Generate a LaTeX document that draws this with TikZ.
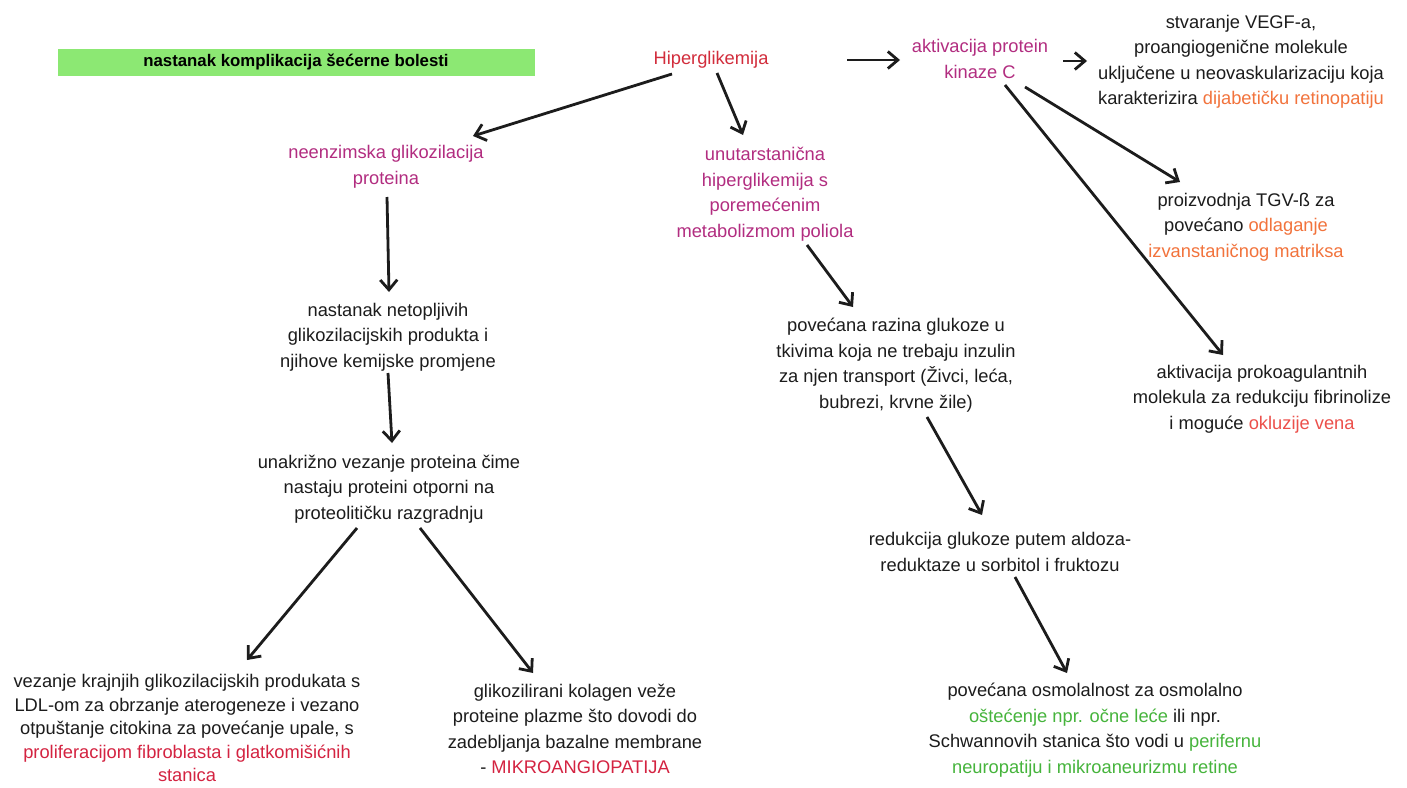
\documentclass[tikz,border=0pt]{standalone}
\usepackage{fontspec}
\setmainfont{Liberation Sans}
\usetikzlibrary{arrows.meta}
\definecolor{ink}{RGB}{28,28,28}
\definecolor{hred}{RGB}{210,45,60}
\definecolor{mag}{RGB}{178,45,128}
\definecolor{orng}{RGB}{242,115,60}
\definecolor{okl}{RGB}{236,80,75}
\definecolor{crim}{RGB}{212,35,65}
\definecolor{grn}{RGB}{70,180,60}
\definecolor{barg}{RGB}{140,232,115}
\begin{document}
\begin{tikzpicture}[x=1pt,y=-1pt,
  txt/.style={inner sep=0pt, align=center, text=ink, font=\fontsize{18.3}{25.5}\selectfont},
  magtxt/.style={txt, text=mag},
  arr/.style={draw=ink, line width=2.8pt, -{Straight Barb[length=10pt,width=17pt]}}]
\useasboundingbox[fill=white] (0,0) rectangle (1407,787);

\node[txt, fill=barg, minimum width=477pt, minimum height=27pt, text=black, font=\fontsize{16.8}{20}\selectfont\bfseries] (title) at (296,62) {nastanak komplikacija šećerne bolesti};
\node[txt, text=hred] (hip) at (711,60) {Hiperglikemija};
\node[magtxt] (akt) at (980,59) {aktivacija protein\\kinaze C};
\node[txt] (vegf) at (1241,62) {stvaranje VEGF-a,\\proangiogenične molekule\\uključene u neovaskularizaciju koja\\karakterizira \textcolor{orng}{dijabetičku retinopatiju}};
\node[txt] (tgv) at (1246,227) {proizvodnja TGV-ß za\\povećano \textcolor{orng}{odlaganje}\\\textcolor{orng}{izvanstaničnog matriksa}};
\node[txt] (prok) at (1262,399) {aktivacija prokoagulantnih\\molekula za redukciju fibrinolize\\i moguće \textcolor{okl}{okluzije vena}};
\node[magtxt] (neenz) at (386,167) {neenzimska glikozilacija\\proteina};
\node[magtxt] (unut) at (765,194) {unutarstanična\\hiperglikemija s\\poremećenim\\metabolizmom poliola};
\node[txt] (netop) at (388,337) {nastanak netopljivih\\glikozilacijskih produkta i\\njihove kemijske promjene};
\node[txt] (unakr) at (389,489) {unakrižno vezanje proteina čime\\nastaju proteini otporni na\\proteolitičku razgradnju};
\node[txt, font=\fontsize{18.3}{23.5}\selectfont] (vez) at (187,728) {vezanje krajnjih glikozilacijskih produkata s\\LDL-om za obrzanje aterogeneze i vezano\\otpuštanje citokina za povećanje upale, s\\\textcolor{crim}{proliferacijom fibroblasta i glatkomišićnih}\\\textcolor{crim}{stanica}};
\node[txt] (kol) at (575,729) {glikozilirani kolagen veže\\proteine plazme što dovodi do\\zadebljanja bazalne membrane\\- \textcolor{crim}{MIKROANGIOPATIJA}};
\node[txt] (pov) at (896,365) {povećana razina glukoze u\\tkivima koja ne trebaju inzulin\\za njen transport (Živci, leća,\\bubrezi, krvne žile)};
\node[txt] (red) at (1000,552) {redukcija glukoze putem aldoza-\\reduktaze u sorbitol i fruktozu};
\node[txt] (osm) at (1095,730) {povećana osmolalnost za osmolalno\\\textcolor{grn}{oštećenje npr. očne leće} ili npr.\\Schwannovih stanica što vodi u \textcolor{grn}{perifernu}\\\textcolor{grn}{neuropatiju i mikroaneurizmu retine}};

\draw[arr] ([shift={(136,0)}]hip.center) -- ([shift={(-80,1)}]akt.center);
\draw[arr] ([shift={(83,2)}]akt.center) -- ([shift={(-154,-1)}]vegf.center);
\draw[arr] ([shift={(45,28)}]akt.center) -- ([shift={(-66,-45)}]tgv.center);
\draw[arr] ([shift={(25,26)}]akt.center) -- ([shift={(-39,-44)}]prok.center);
\draw[arr] ([shift={(-39,14)}]hip.center) -- ([shift={(87,-31)}]neenz.center);
\draw[arr] ([shift={(6,13)}]hip.center) -- ([shift={(-22,-59)}]unut.center);
\draw[arr] ([shift={(1,30)}]neenz.center) -- ([shift={(1,-45)}]netop.center);
\draw[arr] ([shift={(0,36)}]netop.center) -- ([shift={(3,-46)}]unakr.center);
\draw[arr] ([shift={(-32,39)}]unakr.center) -- ([shift={(60,-68)}]vez.center);
\draw[arr] ([shift={(31,39)}]unakr.center) -- ([shift={(-42,-56)}]kol.center);
\draw[arr] ([shift={(42,51)}]unut.center) -- ([shift={(-43,-58)}]pov.center);
\draw[arr] ([shift={(31,52)}]pov.center) -- ([shift={(-18,-37)}]red.center);
\draw[arr] ([shift={(15,25)}]red.center) -- ([shift={(-28,-57)}]osm.center);
\end{tikzpicture}
\end{document}
